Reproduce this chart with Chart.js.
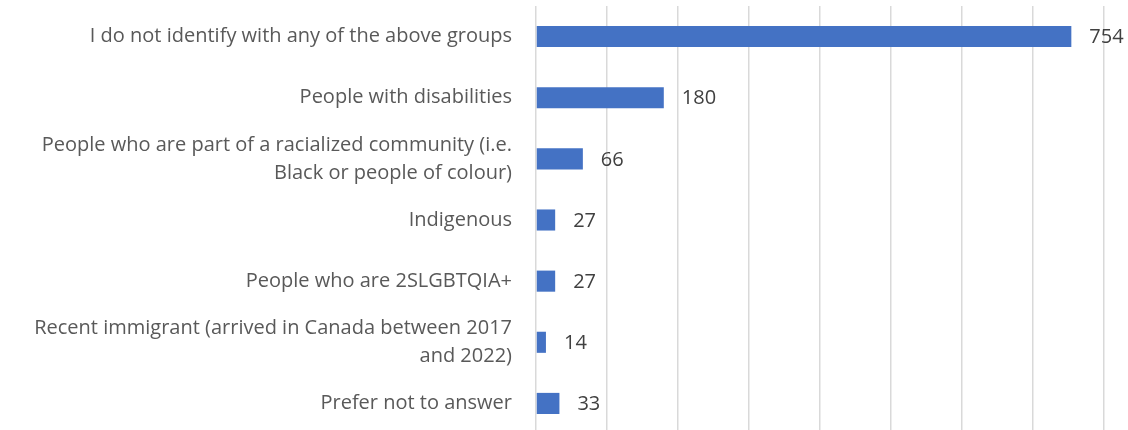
<!DOCTYPE html>
<html>
<head>
<meta charset="utf-8">
<script src="https://cdn.jsdelivr.net/npm/chart.js@4"></script>
<style>
  html, body { margin: 0; padding: 0; background: #fff; overflow: hidden; }
  #wrap { width: 1128px; height: 434px; }
</style>
</head>
<body>
<div id="wrap"><canvas id="myChart" width="1128" height="434"></canvas></div>
<script>
const CATEGORIES = [
  'I do not identify with any of the above groups',
  'People with disabilities',
  ['People who are part of a racialized community (i.e.', 'Black or people of colour)'],
  'Indigenous',
  'People who are 2SLGBTQIA+',
  ['Recent immigrant (arrived in Canada between 2017', 'and 2022)'],
  'Prefer not to answer',
];
const COUNTS = [754, 180, 66, 27, 27, 14, 33];

const FONT = { family: '"Open Sans", sans-serif', size: 20, lineHeight: 1.4 };

// value labels right of each bar
const barLabels = {
  id: 'barLabels',
  afterDatasetsDraw(chart) {
    const ctx = chart.ctx;
    const meta = chart.getDatasetMeta(0);
    ctx.save();
    ctx.font = `${FONT.size}px ${FONT.family}`;
    ctx.fillStyle = '#404040';
    ctx.textBaseline = 'middle';
    ctx.textAlign = 'left';
    meta.data.forEach((bar, i) => {
      ctx.fillText(String(COUNTS[i]), bar.x + 18, bar.y + 1);
    });
    ctx.restore();
  },
};

new Chart(document.getElementById('myChart').getContext('2d'), {
  type: 'bar',
  data: {
    labels: CATEGORIES,
    datasets: [{
      data: COUNTS,
      backgroundColor: '#4472C4',
      categoryPercentage: 1,
      barPercentage: 0.345,
    }],
  },
  options: {
    indexAxis: 'y',
    responsive: false,
    animation: false,
    layout: { padding: { top: 6, right: 24, bottom: 0, left: 0 } },
    plugins: { legend: { display: false }, tooltip: { enabled: false } },
    scales: {
      x: {
        min: 0,
        max: 800,
        ticks: { display: false, stepSize: 100 },
        grid: { color: '#d9d9d9', lineWidth: 1.5, drawTicks: false },
        border: { display: false },
        afterFit(scale) { scale.height = 0; },
      },
      y: {
        grid: { display: false, drawTicks: false },
        border: { display: false },
        ticks: { color: '#595959', font: FONT, padding: 24 },
        afterFit(scale) {
          scale.width = 536;
          scale.paddingTop = 0;
          scale.paddingBottom = 0;
        },
      },
    },
  },
  plugins: [barLabels],
});
</script>
</body>
</html>
